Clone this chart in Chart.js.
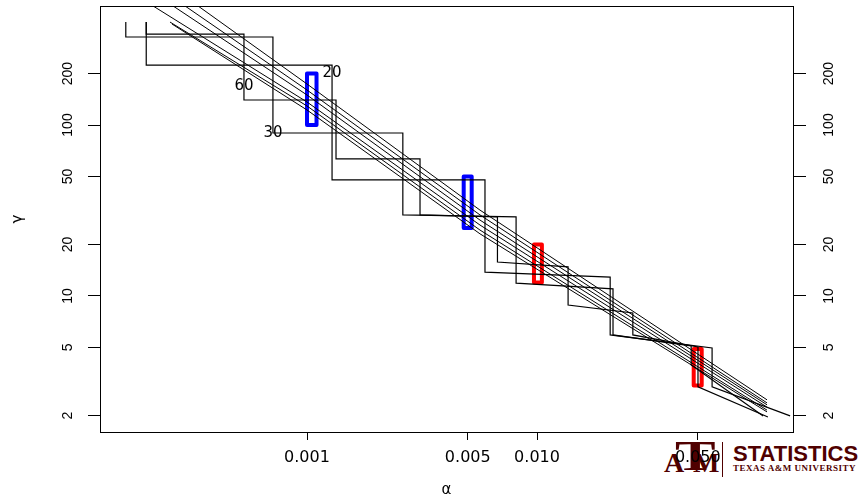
<!DOCTYPE html>
<html>
<head>
<meta charset="utf-8">
<script src="https://cdn.jsdelivr.net/npm/chart.js@4.4.1/dist/chart.umd.min.js"></script>
<style>
  html, body { margin: 0; padding: 0; background: #fff; }
  #wrap { position: relative; width: 860px; height: 496px; overflow: hidden; }
  #chart { position: absolute; left: 0; top: 0; }
  .logo { position: absolute; color: #500000; white-space: nowrap; }
</style>
</head>
<body>
<div id="wrap">
  <!-- watermark, sits under the transparent canvas -->
  <div class="logo" style="left:675px; top:435px; font:bold 42px 'Liberation Serif', serif; line-height:42px; transform:scaleX(1.45); transform-origin:left top;">T</div>
  <div class="logo" style="left:664px; top:449px; font:bold 28px 'Liberation Serif', serif; line-height:28px;">A</div>
  <div class="logo" style="left:693px; top:449px; font:bold 28px 'Liberation Serif', serif; line-height:28px;">M</div>
  <div class="logo" style="left:722px; top:442px; width:1px; height:35px; background:#500000;"></div>
  <div class="logo" style="left:733px; top:443px; font:bold 22px 'Liberation Sans', Arial, sans-serif; line-height:22px;">STATISTICS</div>
  <div class="logo" style="left:733px; top:464px; font:bold 9px 'Liberation Serif', serif; line-height:9px; letter-spacing:0.5px;">TEXAS A&amp;M UNIVERSITY</div>
  <canvas id="chart" width="860" height="496"></canvas>
</div>
<script>
// axis ranges (alpha horizontal, gamma vertical, both log)
const alphaMin = 1.259e-4, alphaMax = 0.1297;
const gammaMin = 1.602, gammaMax = 496.5;
const alphaTicks = [0.001, 0.005, 0.010, 0.050];
const alphaTickLabels = ['0.001', '0.005', '0.010', '0.050'];
const gammaTicks = [2, 5, 10, 20, 50, 100, 200];

// step curves, corner points
const step20Alpha = [2.0e-4, 2.0e-4, 1.285e-3, 1.285e-3, 5.94e-3, 5.94e-3, 2.08e-2, 2.08e-2, 5.77e-2, 5.77e-2, 0.126];
const step20Gamma = [400, 224, 224, 47.7, 47.7, 13.8, 12.9, 5.92, 4.97, 2.94, 1.99];
const step30Alpha = [1.63e-4, 1.63e-4, 7.11e-4, 7.11e-4, 2.61e-3, 2.61e-3, 8.11e-3, 8.11e-3, 2.14e-2, 2.14e-2, 4.68e-2, 4.68e-2, 9.62e-2];
const step30Gamma = [400, 327, 327, 89.8, 89.8, 29.8, 29.0, 11.9, 11.0, 5.92, 5.10, 3.95, 1.99];
const step60Alpha = [2.0e-4, 2.0e-4, 5.32e-4, 5.32e-4, 1.337e-3, 1.337e-3, 3.10e-3, 3.10e-3, 6.73e-3, 6.73e-3, 1.365e-2, 1.365e-2, 2.61e-2, 2.61e-2, 5.01e-2, 5.01e-2, 0.1009];
const step60Gamma = [400, 340, 340, 140, 140, 63.3, 63.3, 29.8, 29.0, 15.8, 14.8, 8.86, 7.96, 5.92, 5.04, 2.94, 1.96];

// curve labels
const labelText = ['20', '30', '60'];
const labelAlpha = [1.285e-3, 7.11e-4, 5.32e-4];
const labelGamma = [201, 89.8, 169];

// approximating lines
const lineAlpha = [
  [3.358e-4, 0.001, 5.65e-3, 0.1],
  [2.948e-4, 0.001, 5.65e-3, 0.1],
  [2.615e-4, 0.001, 5.65e-3, 0.1],
  [2.140e-4, 0.001, 5.65e-3, 0.1],
  [2.537e-4, 0.001, 5.65e-3, 0.1],
  [2.588e-4, 0.001, 5.65e-3, 0.1]
];
const lineGamma = [
  [497, 173.7, 31.8, 2.47],
  [497, 160.2, 29.8, 2.37],
  [497, 149.8, 27.8, 2.31],
  [497, 136.3, 26.0, 2.24],
  [400, 129.2, 24.3, 2.15],
  [389.6, 122.4, 23.1, 2.10]
];

// highlighted boxes
const boxAlphaLo = [0.001, 0.0048, 0.0097, 0.048];
const boxAlphaHi = [0.0011, 0.0052, 0.0105, 0.052];
const boxGammaLo = [100, 25, 12, 3];
const boxGammaHi = [200, 50, 20, 4.9];
const boxColors = ['#0000ff', '#0000ff', '#ff0000', '#ff0000'];

const toPoints = (xs, ys) => xs.map((v, i) => ({ x: v, y: ys[i] }));

const datasets = [];
lineAlpha.forEach((xs, i) => {
  datasets.push({ data: toPoints(xs, lineGamma[i]), borderColor: '#000', borderWidth: 1 });
});
[[step20Alpha, step20Gamma], [step30Alpha, step30Gamma], [step60Alpha, step60Gamma]].forEach(([xs, ys]) => {
  datasets.push({ data: toPoints(xs, ys), borderColor: '#000', borderWidth: 1.2 });
});
boxAlphaLo.forEach((lo, i) => {
  const hi = boxAlphaHi[i];
  datasets.push({
    data: toPoints([lo, hi, hi, lo, lo], [boxGammaLo[i], boxGammaLo[i], boxGammaHi[i], boxGammaHi[i], boxGammaLo[i]]),
    borderColor: boxColors[i],
    borderWidth: 4,
    borderJoinStyle: 'round',
    borderCapStyle: 'round'
  });
});
datasets.forEach(d => { d.showLine = true; d.pointRadius = 0; d.tension = 0; });

const curveLabels = {
  id: 'curveLabels',
  afterDatasetsDraw(chart) {
    const { ctx, scales: { x, y } } = chart;
    ctx.save();
    ctx.font = '15px "DejaVu Sans", sans-serif';
    ctx.textAlign = 'center';
    ctx.textBaseline = 'middle';
    ctx.fillStyle = '#000';
    labelText.forEach((t, i) => {
      ctx.fillText(t, x.getPixelForValue(labelAlpha[i]), y.getPixelForValue(labelGamma[i]));
    });
    ctx.restore();
  }
};

const plotFrame = {
  id: 'plotFrame',
  afterDraw(chart) {
    const { ctx, chartArea: a } = chart;
    ctx.save();
    ctx.strokeStyle = '#000';
    ctx.lineWidth = 1;
    ctx.strokeRect(Math.round(a.left) + 0.5, Math.round(a.top) + 0.5,
      Math.round(a.right - a.left), Math.round(a.bottom - a.top));
    ctx.restore();
  }
};

const yAxis = (pos, width, tickLen, pad) => ({
  type: 'logarithmic',
  position: pos,
  min: gammaMin,
  max: gammaMax,
  afterBuildTicks: s => { s.ticks = gammaTicks.map(v => ({ value: v })); },
  afterFit: s => { s.width = width; s.paddingTop = 0; s.paddingBottom = 0; },
  grid: { drawOnChartArea: false, tickLength: tickLen, color: '#000' },
  border: { display: false },
  ticks: {
    minRotation: 90, maxRotation: 90, crossAlign: 'center', padding: pad,
    color: '#000', font: { family: "'Liberation Sans', Arial, sans-serif", size: 14 },
    callback: v => String(v)
  }
});

const leftAxis = yAxis('left', 100, 12, 8);
leftAxis.title = {
  display: true, text: 'γ', color: '#000',
  font: { family: "'DejaVu Sans', sans-serif", size: 15 }, padding: { top: 9 }
};

new Chart(document.getElementById('chart'), {
  type: 'scatter',
  data: { datasets },
  options: {
    responsive: false,
    animation: false,
    layout: { padding: { top: 6, left: 0, right: 0, bottom: 0 } },
    plugins: { legend: { display: false }, tooltip: { enabled: false } },
    scales: {
      x: {
        type: 'logarithmic',
        position: 'bottom',
        min: alphaMin,
        max: alphaMax,
        afterBuildTicks: s => { s.ticks = alphaTicks.map(v => ({ value: v })); },
        afterFit: s => { s.height = 64; s.paddingLeft = 0; s.paddingRight = 0; },
        grid: { drawOnChartArea: false, tickLength: 8, color: '#000' },
        border: { display: false },
        ticks: {
          autoSkip: false, maxRotation: 0, padding: 8, color: '#000',
          font: { family: "'DejaVu Sans', sans-serif", size: 16 },
          callback: (v, i) => alphaTickLabels[i]
        },
        title: {
          display: true, text: 'α', color: '#000',
          font: { family: "'DejaVu Sans', sans-serif", size: 15, lineHeight: 0.8 },
          padding: { top: 0, bottom: 0 }
        }
      },
      y: leftAxis,
      y2: yAxis('right', 67, 13, 11)
    }
  },
  plugins: [curveLabels, plotFrame]
});
</script>
</body>
</html>
